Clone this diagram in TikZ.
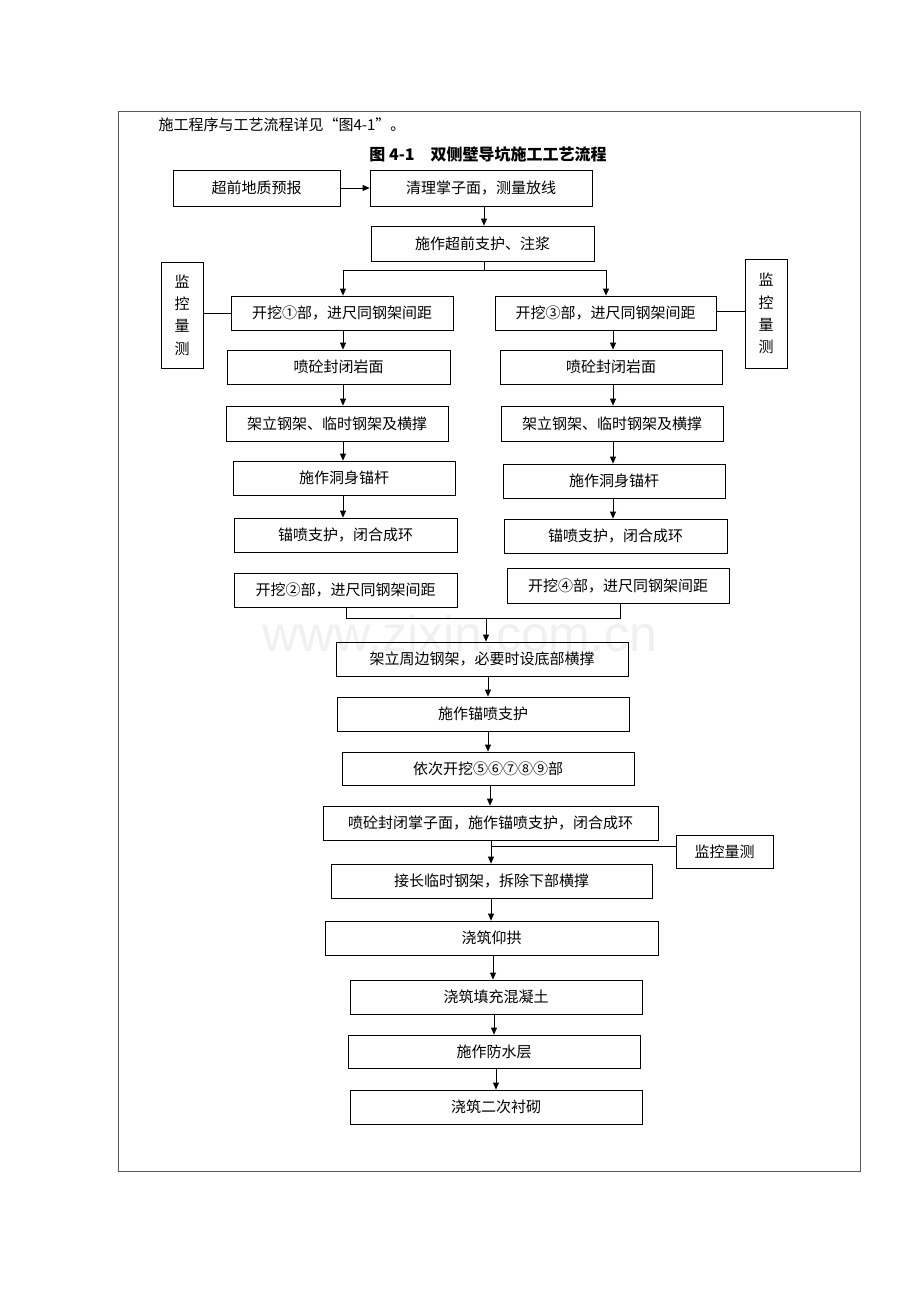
\documentclass[tikz,border=0pt]{standalone}
\usepackage{fontspec}
\setmainfont{Liberation Serif}
\newfontfamily\cjk{Noto Sans CJK SC}
\newfontfamily\wmf{Liberation Sans}
\usetikzlibrary{arrows.meta}
\begin{document}
\begin{tikzpicture}[x=1pt,y=-1pt,
  bx/.style={draw,line width=0.8pt,inner sep=0pt,font=\cjk\fontsize{15}{17}\selectfont},
  ar/.style={-{Triangle[length=7pt,width=6pt]},line width=0.8pt},
  ln/.style={line width=0.8pt}]
\useasboundingbox (0,0) rectangle (920,1302);
\node[font=\wmf\fontsize{50}{52}\selectfont,text=gray!12] (wm) at (460,634) {www.zixin.com.cn};
\draw[line width=0.6pt,gray!70!black] (118,111) rectangle (860,1171);
\node[anchor=west,font=\cjk\fontsize{15}{17}\selectfont] (intro) at (155,125) {施工程序与工艺流程详见“图4-1”。};
\node[font=\cjk\bfseries\fontsize{16}{18}\selectfont] (title) at (488,154) {图 4-1\quad 双侧壁导坑施工工艺流程};
\newcommand\bx[6]{\node[bx,minimum width=#4-#2,minimum height=#5-#3] (#1) at ({(#2+#4)/2},{(#3+#5)/2}) {#6};}
\bx{A}{173}{170}{340}{206}{超前地质预报}
\bx{B}{370}{170}{592}{206}{清理掌子面，测量放线}
\bx{C}{371}{226}{594}{261}{施作超前支护、注浆}
\bx{ML}{161}{262}{203}{368}{\shortstack{监\\[6pt]控\\[6pt]量\\[6pt]测}}
\bx{MR}{745}{259}{787}{368}{\shortstack{监\\[6pt]控\\[6pt]量\\[6pt]测}}
\bx{L1}{231}{296}{453}{330}{开挖①部，进尺同钢架间距}
\bx{R1}{495}{296}{716}{330}{开挖③部，进尺同钢架间距}
\bx{L2}{227}{350}{450}{384}{喷砼封闭岩面}
\bx{R2}{500}{350}{722}{384}{喷砼封闭岩面}
\bx{L3}{226}{406}{448}{441}{架立钢架、临时钢架及横撑}
\bx{R3}{501}{406}{723}{441}{架立钢架、临时钢架及横撑}
\bx{L4}{233}{461}{455}{495}{施作洞身锚杆}
\bx{R4}{503}{464}{725}{498}{施作洞身锚杆}
\bx{L5}{234}{518}{457}{552}{锚喷支护，闭合成环}
\bx{R5}{504}{519}{727}{553}{锚喷支护，闭合成环}
\bx{L6}{234}{573}{457}{607}{开挖②部，进尺同钢架间距}
\bx{R6}{507}{568}{729}{603}{开挖④部，进尺同钢架间距}
\bx{M1}{336}{642}{628}{676}{架立周边钢架，必要时设底部横撑}
\bx{M2}{337}{697}{629}{731}{施作锚喷支护}
\bx{M3}{342}{752}{634}{785}{依次开挖⑤⑥⑦⑧⑨部}
\bx{M4}{323}{806}{658}{840}{喷砼封闭掌子面，施作锚喷支护，闭合成环}
\bx{M9m}{676}{835}{773}{868}{监控量测}
\bx{M5}{331}{864}{652}{898}{接长临时钢架，拆除下部横撑}
\bx{M6}{325}{921}{658}{955}{浇筑仰拱}
\bx{M7}{350}{980}{642}{1014}{浇筑填充混凝土}
\bx{M8}{348}{1035}{640}{1068}{施作防水层}
\bx{M9}{350}{1090}{642}{1124}{浇筑二次衬砌}
\draw[ar] (A.east) -- (B.west);
\draw[ar] (484,206) -- (C.north -| 484,0);
\coordinate (cj) at (484,270);
\draw[ln] (C.south -| cj) -- (cj);
\draw[ln] (343,270) -- (606,270);
\draw[ar] (343,270) -- (L1.north -| 343,0);
\draw[ar] (606,270) -- (R1.north -| 606,0);
\draw[ln] (ML.east |- 0,313) -- (L1.west |- 0,313);
\draw[ln] (MR.west |- 0,311) -- (R1.east |- 0,311);
\foreach \a/\b in {L1/L2,L2/L3,L3/L4,L4/L5}{\draw[ar] (\a.south -| 343,0) -- (\b.north -| 343,0);}
\foreach \a/\b in {R1/R2,R2/R3,R3/R4,R4/R5}{\draw[ar] (\a.south -| 613,0) -- (\b.north -| 613,0);}
\coordinate (mj) at (486,618);
\draw[ln] (L6.south -| 346,0) -- (346,618) -- (620,618) -- (R6.south -| 620,0);
\draw[ar] (mj) -- (M1.north -| mj);
\foreach \a/\b/\x in {M1/M2/488,M2/M3/488,M3/M4/490,M4/M5/491,M5/M6/491,M6/M7/493,M7/M8/494,M8/M9/496}{\draw[ar] (\a.south -| \x,0) -- (\b.north -| \x,0);}
\draw[ln] (M9m.west |- 0,846) -- (491,846);
\end{tikzpicture}
\end{document}
